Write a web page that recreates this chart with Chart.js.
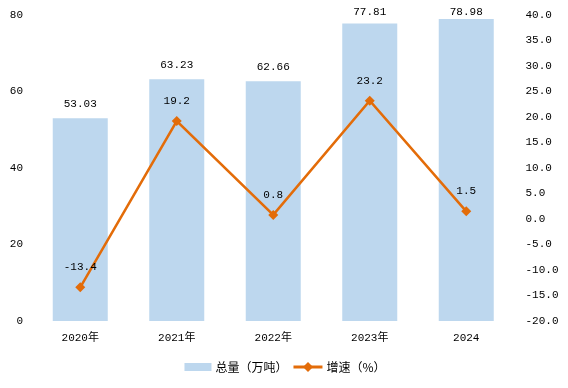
<!DOCTYPE html>
<html>
<head>
<meta charset="utf-8">
<script src="https://cdn.jsdelivr.net/npm/chart.js@4"></script>
<style>
html,body{margin:0;padding:0;background:#fff;}
#wrap{width:568px;height:388px;position:relative;}
</style>
</head>
<body>
<div id="wrap"><canvas id="c" width="568" height="388"></canvas></div>
<script>
const categories = ['2020年', '2021年', '2022年', '2023年', '2024'];
const totalValues = [53.03, 63.23, 62.66, 77.81, 78.98];
const growthValues = [-13.4, 19.2, 0.8, 23.2, 1.5];
const totalLabel = '总量（万吨）';
const growthLabel = '增速（%）';

const BAR_COLOR = '#BDD7EE';
const LINE_COLOR = '#E36C09';
const FONT_FAMILY = '"Liberation Mono", "Noto Sans CJK SC", monospace';
const CJK_FAMILY = '"Noto Sans CJK SC", sans-serif';

const labelPlugin = {
  id: 'valueLabels',
  afterDatasetsDraw(chart) {
    const ctx = chart.ctx;
    ctx.save();
    ctx.fillStyle = '#000';
    ctx.font = '11px ' + FONT_FAMILY;
    ctx.textAlign = 'center';
    ctx.textBaseline = 'middle';
    const barMeta = chart.getDatasetMeta(0);
    barMeta.data.forEach((el, i) => {
      ctx.fillText(totalValues[i].toFixed(2), el.x, Math.max(el.y - 14.5, 12.5));
    });
    const lineMeta = chart.getDatasetMeta(1);
    lineMeta.data.forEach((el, i) => {
      ctx.fillText(growthValues[i].toFixed(1), el.x, el.y - 20);
    });
    ctx.restore();
  }
};

const legendPlugin = {
  id: 'customLegend',
  afterDraw(chart) {
    const ctx = chart.ctx;
    ctx.save();
    ctx.font = '12px ' + CJK_FAMILY;
    ctx.textBaseline = 'middle';
    ctx.fillStyle = '#000';
    const y = 367;
    const swW = 27, gap = 4, lineW = 29, itemGap = 6;
    const w1 = ctx.measureText(totalLabel).width;
    const w2 = ctx.measureText(growthLabel).width;
    const total = swW + gap + w1 + itemGap + lineW + gap + w2;
    let x = chart.width / 2 + 1 - total / 2;
    ctx.fillStyle = BAR_COLOR;
    ctx.fillRect(x, y - 4, swW, 8);
    x += swW + gap;
    ctx.fillStyle = '#000';
    ctx.fillText(totalLabel, x, y);
    x += w1 + itemGap;
    ctx.strokeStyle = LINE_COLOR;
    ctx.lineWidth = 3;
    ctx.beginPath();
    ctx.moveTo(x, y);
    ctx.lineTo(x + lineW, y);
    ctx.stroke();
    const cx = x + lineW / 2;
    ctx.fillStyle = LINE_COLOR;
    ctx.beginPath();
    ctx.moveTo(cx, y - 5);
    ctx.lineTo(cx + 5, y);
    ctx.lineTo(cx, y + 5);
    ctx.lineTo(cx - 5, y);
    ctx.closePath();
    ctx.fill();
    x += lineW + gap;
    ctx.fillStyle = '#000';
    ctx.fillText(growthLabel, x, y);
    ctx.restore();
  }
};

new Chart(document.getElementById('c'), {
  data: {
    labels: categories,
    datasets: [
      {
        type: 'bar',
        label: totalLabel,
        data: totalValues,
        backgroundColor: BAR_COLOR,
        borderWidth: 0,
        yAxisID: 'y',
        barPercentage: 0.57,
        categoryPercentage: 1.0,
        order: 2
      },
      {
        type: 'line',
        label: growthLabel,
        data: growthValues,
        borderColor: LINE_COLOR,
        backgroundColor: LINE_COLOR,
        borderWidth: 2.5,
        pointStyle: 'rectRot',
        pointRadius: 5,
        pointHoverRadius: 5,
        pointBorderWidth: 0,
        tension: 0,
        yAxisID: 'y1',
        order: 1
      }
    ]
  },
  options: {
    responsive: false,
    animation: false,
    events: [],
    layout: { padding: { top: 15, left: 0, right: 0, bottom: 0 } },
    plugins: {
      legend: { display: false },
      tooltip: { enabled: false }
    },
    scales: {
      x: {
        grid: { display: false, drawTicks: false },
        border: { display: false },
        ticks: { color: '#000', font: { size: 11, family: FONT_FAMILY }, padding: 10 },
        afterFit(scale) { scale.height = 67; scale.paddingLeft = 0; scale.paddingRight = 0; }
      },
      y: {
        position: 'left',
        min: 0, max: 80,
        ticks: { stepSize: 20, color: '#000', font: { size: 11, family: FONT_FAMILY }, padding: 9 },
        grid: { display: false, drawTicks: false },
        border: { display: false },
        afterFit(scale) { scale.width = 32; scale.paddingTop = 0; scale.paddingBottom = 0; }
      },
      y1: {
        position: 'right',
        min: -20, max: 40,
        ticks: {
          stepSize: 5, color: '#000', font: { size: 11, family: FONT_FAMILY }, padding: 11,
          callback: (v) => Number(v).toFixed(1)
        },
        grid: { display: false, drawTicks: false },
        border: { display: false },
        afterFit(scale) { scale.width = 53.5; scale.paddingTop = 0; scale.paddingBottom = 0; }
      }
    }
  },
  plugins: [labelPlugin, legendPlugin]
});
</script>
</body>
</html>
